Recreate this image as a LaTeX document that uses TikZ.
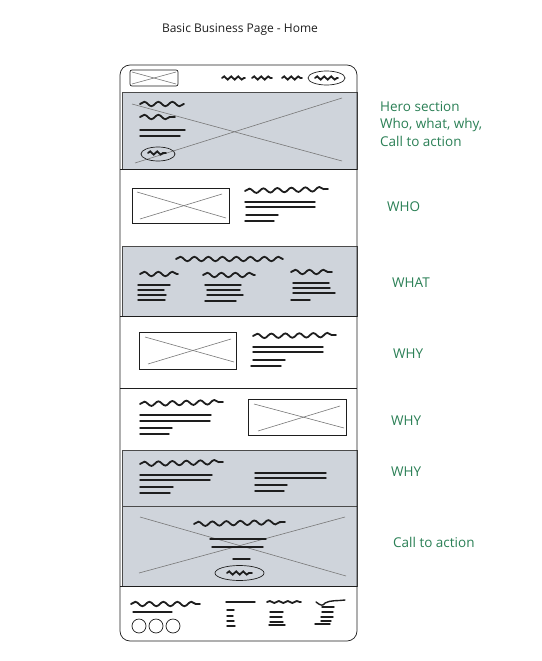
\documentclass[tikz,border=0pt]{standalone}
\usepackage{fontspec}
\setmainfont{Open Sans}
\usetikzlibrary{decorations.pathmorphing}
\definecolor{ink}{HTML}{1E1E1E}
\definecolor{panel}{HTML}{CFD4DB}
\definecolor{note}{HTML}{2A7F55}
\begin{document}
\begin{tikzpicture}[x=1pt,y=-1pt,
  thin/.style={draw=ink, line width=0.7pt},
  panelbox/.style={fill=panel, draw=ink!80, line width=0.9pt},
  txt/.style={draw=ink, line width=1.4pt, line cap=round},
  squig/.style={draw=ink, line width=1.8pt, line cap=round, decorate,
     decoration={snake, segment length=14pt, amplitude=2.2pt}},
  smallsquig/.style={draw=ink, line width=1.8pt, line cap=round, decorate,
     decoration={snake, segment length=7pt, amplitude=1.6pt}},
  xline/.style={draw=ink!60, line width=0.6pt},
  notelabel/.style={text=note, font=\fontsize{13.5}{17.5}\selectfont, anchor=west, align=left, inner sep=0pt}]
\useasboundingbox (0,0) rectangle (541,661);
% title
\node[font=\fontsize{12}{14}\selectfont, text=ink] (title) at (240,30) {Basic Business Page - Home};
% panels
\fill[white, rounded corners=10pt] (120,65) rectangle (357,641);
\path[panelbox] (122,92) rectangle (357,169);
\path[panelbox] (122,246) rectangle (357,316);
\path[panelbox] (122,450) rectangle (357,506);
\path[panelbox] (122,506) rectangle (357,586);
\draw[thin] (120,388) -- (357,388);
\draw[thin] (120,316) -- (357,316);
\draw[thin] (120,169) -- (357,169);
\draw[thin] (120,586) -- (357,586);
\draw[thin, rounded corners=10pt] (120,65) rectangle (357,641);
% nav
\draw[thin, rounded corners=2pt] (130,70) rectangle (178,86);
\draw[xline] (132,72) -- (176,84); \draw[xline] (132,84) -- (176,72);
\draw[smallsquig] (222,78) -- (245,78);
\draw[smallsquig] (252,78) -- (272,78);
\draw[smallsquig] (282,78) -- (302,78);
\draw[thin] (326.5,78) ellipse (18.5pt and 7pt);
\draw[smallsquig] (315,78) -- (338,78);
% hero
\draw[xline] (132,104) -- (342,161);
\draw[xline] (135,163) -- (342,98);
\draw[squig] (140,104) -- (184,104);
\draw[squig] (140,117) -- (175,117);
\draw[txt] (140,130) -- (185,130);
\draw[txt] (140,136) -- (180,136);
\draw[thin] (158,154) ellipse (17pt and 7pt);
\draw[smallsquig] (148,153) -- (166,153);
% who
\draw[thin] (132,188) rectangle (229,223);
\draw[xline] (137,192) -- (226,218); \draw[xline] (140,219) -- (222,194);
\draw[squig] (245,191) -- (328,189);
\draw[txt] (245,202) -- (315,202);
\draw[txt] (246,207) -- (315,207);
\draw[txt] (246,215) -- (278,215);
\draw[txt] (245,221) -- (274,221);
% what
\draw[squig] (176,259) -- (283,259);
\draw[squig] (140,274) -- (178,274);
\draw[txt] (138,285) -- (170,285);
\draw[txt] (138,290) -- (164,290);
\draw[txt] (138,295) -- (166,295);
\draw[txt] (138,300) -- (165,300);
\draw[squig] (203,275) -- (255,275);
\draw[txt] (205,285) -- (241,285);
\draw[txt] (207,290) -- (240,290);
\draw[txt] (207,295) -- (243,295);
\draw[txt] (205,301) -- (236,301);
\draw[squig] (291,272) -- (332,272);
\draw[txt] (293,283) -- (329,283);
\draw[txt] (293,288) -- (330,288);
\draw[txt] (293,293) -- (335,293);
\draw[txt] (291,300) -- (310,300);
% why 1
\draw[thin] (139,332) rectangle (236,369);
\draw[xline] (145,337) -- (234,362); \draw[xline] (148,364) -- (231,339);
\draw[squig] (253,336) -- (336,335);
\draw[txt] (253,347) -- (323,347);
\draw[txt] (253,352) -- (323,352);
\draw[txt] (253,360) -- (285,360);
\draw[txt] (251,366) -- (281,366);
% why 2
\draw[squig] (140,404) -- (223,402);
\draw[txt] (140,415) -- (211,415);
\draw[txt] (140,421) -- (210,421);
\draw[txt] (140,428) -- (172,428);
\draw[txt] (140,434) -- (169,434);
\draw[thin] (248,399) rectangle (346,435);
\draw[xline] (254,404) -- (344,428); \draw[xline] (258,431) -- (340,406);
% why 3
\draw[squig] (140,464) -- (223,462);
\draw[txt] (140,475) -- (212,475);
\draw[txt] (140,480) -- (210,480);
\draw[txt] (140,487) -- (173,487);
\draw[txt] (140,493) -- (170,493);
\draw[txt] (255,473) -- (326,473);
\draw[txt] (255,478) -- (326,478);
\draw[txt] (255,485) -- (287,485);
\draw[txt] (255,491) -- (284,491);
% cta
\draw[xline] (140,517) -- (346,576);
\draw[xline] (139,573) -- (345,517);
\draw[squig] (194,524) -- (285,522);
\draw[txt] (210,539) -- (266,539);
\draw[txt] (212,547) -- (263,547);
\draw[txt] (233,559) -- (250,559);
\draw[thin] (239.5,573) ellipse (24.5pt and 7.5pt);
\draw[smallsquig] (227,573) -- (252,573);
% footer
\draw[squig] (131,604) -- (200,604);
\draw[txt, line width=1.2pt] (133,612) -- (172,612);
\draw[thin] (139,626) circle (7pt);
\draw[thin] (156,626) circle (7pt);
\draw[thin] (173,626) circle (7pt);
\draw[txt] (226,602) -- (255,602);
\draw[txt] (227,610) -- (234,610);
\draw[txt] (227,616) -- (233,616);
\draw[txt] (227,621) -- (234,621);
\draw[txt] (227,626) -- (235,626);
\draw[smallsquig, decoration={snake, segment length=9pt, amplitude=1pt}] (267,602) -- (301,602);
\draw[txt] (270,612) -- (283,612);
\draw[txt] (270,617) -- (282,617);
\draw[txt] (270,622) -- (283,622);
\draw[txt] (269,625) -- (285,625);
\draw[txt] (316,602) .. controls (321,606) and (323,606) .. (325,603) .. controls (330,600) and (338,601) .. (345,600);
\draw[txt] (322,607) -- (334,607);
\draw[txt] (322,612) -- (333,612);
\draw[txt] (321,617) -- (333,617);
\draw[txt] (321,621) -- (331,621);
\draw[txt] (315,624) -- (330,624);
% notes
\node[notelabel, anchor=north west] (nhero) at (380,101) {Hero section\\Who, what, why,\\Call to action};
\node[notelabel] (nwho) at (387,207) {WHO};
\node[notelabel] (nwhat) at (392,283) {WHAT};
\node[notelabel] (nwhy1) at (393,354) {WHY};
\node[notelabel] (nwhy2) at (391,421) {WHY};
\node[notelabel] (nwhy3) at (391,472) {WHY};
\node[notelabel] (ncta) at (393,542) {Call to action};
\end{tikzpicture}
\end{document}
